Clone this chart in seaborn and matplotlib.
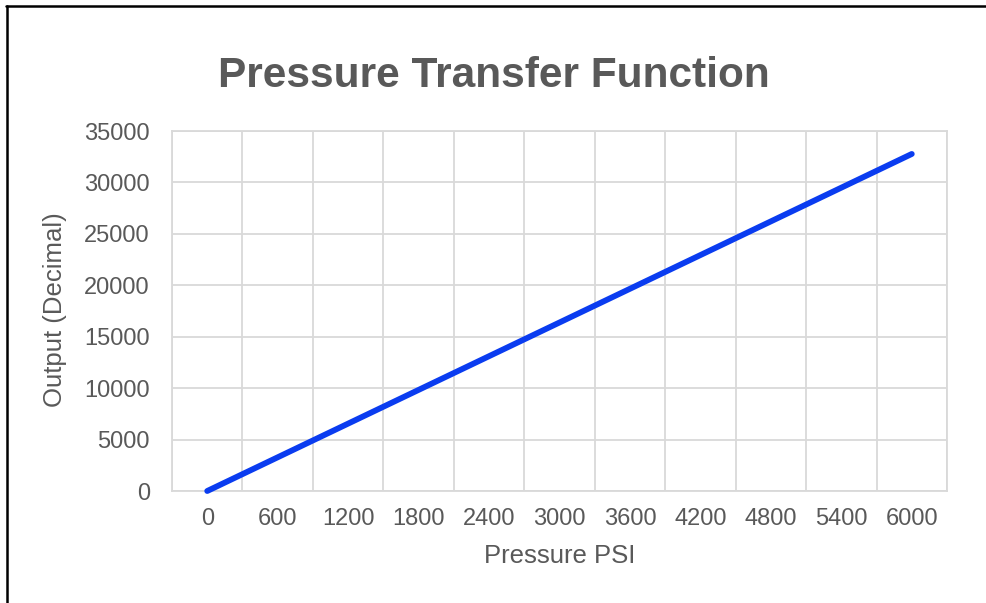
import numpy as np
import matplotlib
matplotlib.use('Agg')
import matplotlib.pyplot as plt
import seaborn as sns
import pandas as pd
from matplotlib.lines import Line2D

# values
psi = [0, 600, 1200, 1800, 2400, 3000, 3600, 4200, 4800, 5400, 6000]
output = [0, 3277, 6553, 9830, 13107, 16383, 19660, 22937, 26213, 29490, 32767]
y_ticks = [0, 5000, 10000, 15000, 20000, 25000, 30000, 35000]

sns.set_style('white')
plt.rcParams['font.family'] = ['Liberation Sans', 'DejaVu Sans']

text_col = '#595959'
grid_col = '#d9d9d9'

fig = plt.figure(figsize=(9.86, 6.03), dpi=100)
W, H = 986, 603
ax = fig.add_axes([172 / W, (H - 491) / H, (947 - 172) / W, (491 - 131) / H])

data = pd.DataFrame({'pos': np.arange(len(psi)), 'output': output})
sns.lineplot(data=data, x='pos', y='output', ax=ax, color='#0a3cf0',
             linewidth=4.2, solid_capstyle='round', clip_on=False, zorder=5)

# category axis: labels on points, gridlines between them
ax.set_xlim(-0.5, len(psi) - 0.5)
ax.set_xticks(np.arange(len(psi)))
ax.set_xticklabels([str(p) for p in psi])
ax.set_xticks(np.arange(len(psi) + 1) - 0.5, minor=True)
ax.set_ylim(0, 35000)
ax.set_yticks(y_ticks)
ax.set_yticklabels([str(v) for v in y_ticks])

ax.grid(False)
ax.grid(which='minor', axis='x', color=grid_col, linewidth=1.3)
ax.grid(which='major', axis='y', color=grid_col, linewidth=1.3)
for s in ax.spines.values():
    s.set_color(grid_col)
    s.set_linewidth(1.3)

ax.tick_params(axis='both', which='both', length=0, colors=text_col, labelsize=17)
ax.tick_params(axis='y', pad=16)
ax.tick_params(axis='x', pad=12)

ax.set_xlabel('Pressure PSI', fontsize=18.5, color=text_col, va='center')
ax.set_ylabel('Output (Decimal)', fontsize=18.5, color=text_col, va='center')
ax.xaxis.set_label_coords((560 - 172) / 775, (491 - 556) / 360)
ax.yaxis.set_label_coords((55 - 172) / 775, (491 - 310) / 360)

fig.text(494 / W, 1 - 76 / H, 'Pressure Transfer Function', fontsize=30.5,
         fontweight='bold', color=text_col, ha='center', va='center')

# outer chart frame (top and left edges only are visible)
fig.add_artist(Line2D([6 / W, 1.0], [1 - 6 / H, 1 - 6 / H], transform=fig.transFigure,
                      color='black', linewidth=1.8))
fig.add_artist(Line2D([7 / W, 7 / W], [0.0, 1 - 6 / H], transform=fig.transFigure,
                      color='black', linewidth=1.8))

fig.savefig('out.png', dpi=100)
